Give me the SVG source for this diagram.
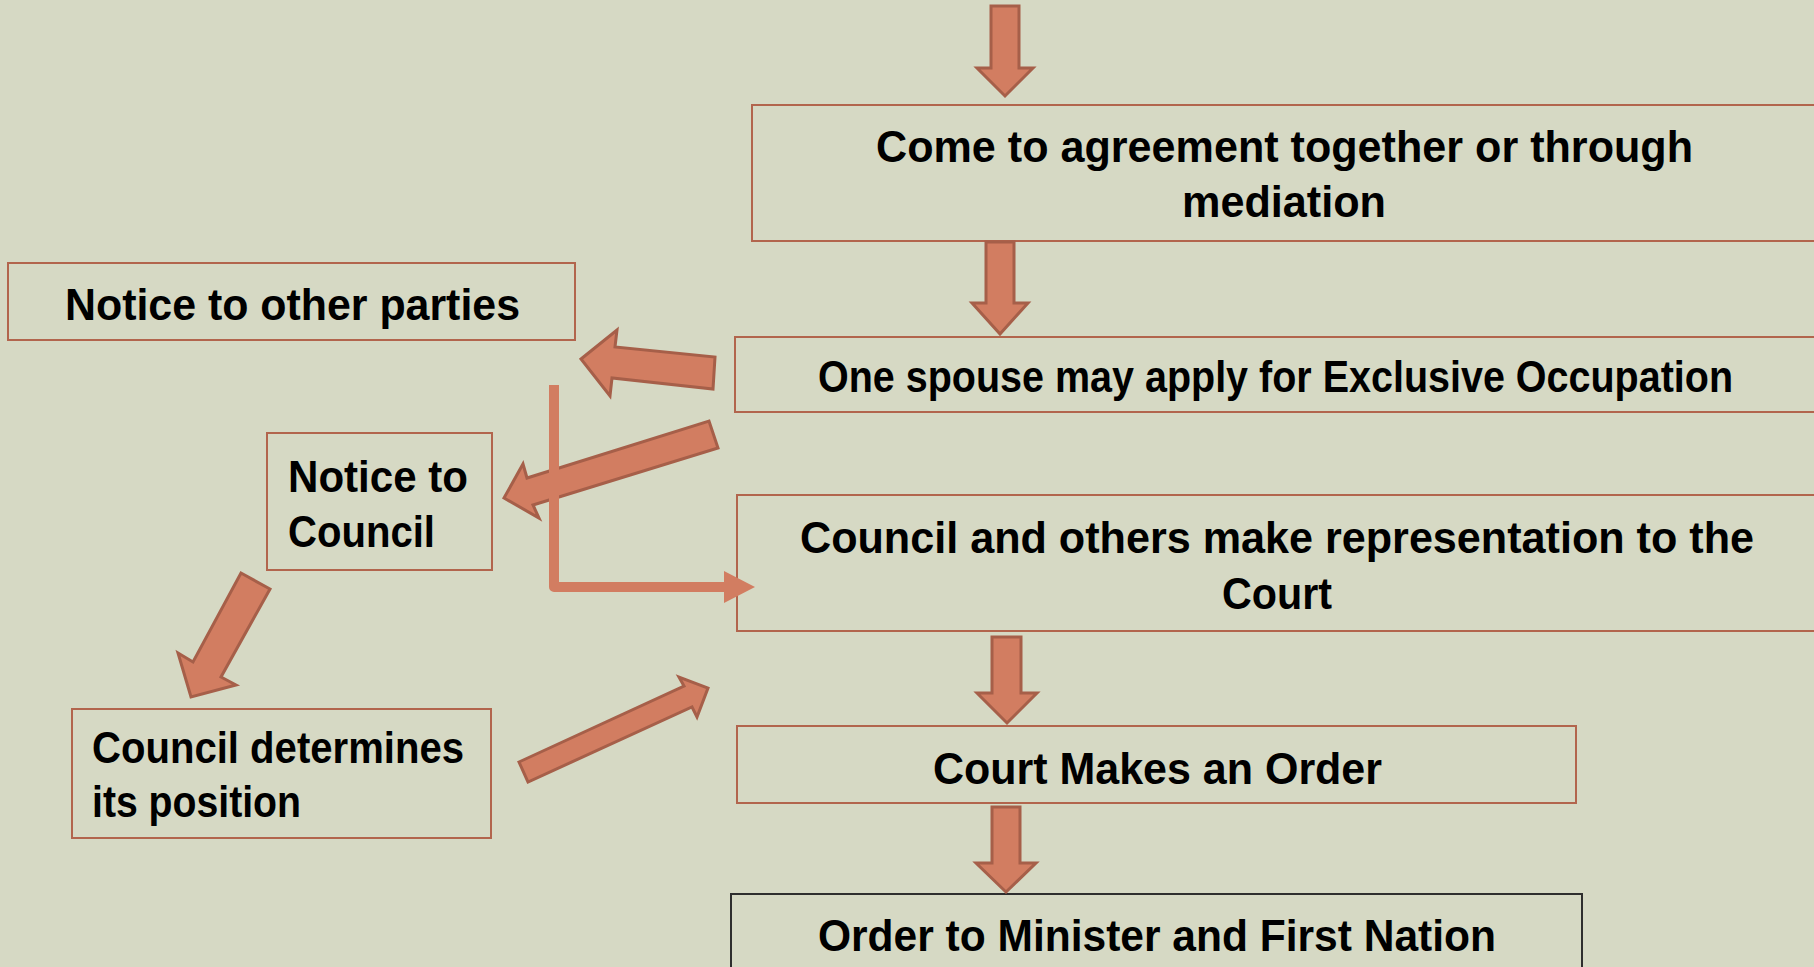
<svg xmlns="http://www.w3.org/2000/svg" width="1814" height="967" viewBox="0 0 1814 967">
<style>
.bg{fill:#D6D9C4}
.box{fill:#D6D9C4;stroke:#B2654D;stroke-width:2}
.boxd{fill:#D6D9C4;stroke:#2E2E2E;stroke-width:2}
.arr{fill:#D27D61;stroke:#A65F49;stroke-width:3;stroke-linejoin:miter}
.t{font-family:"Liberation Sans",Arial,sans-serif;font-weight:bold;font-size:45px;fill:#000}
</style>
<rect class="bg" x="0" y="0" width="1814" height="967"/>
<g id="n-agreement">
<rect class="box" x="752" y="105" width="1080" height="136"/>
<text class="t" x="876" y="162" textLength="817" lengthAdjust="spacingAndGlyphs">Come to agreement together or through</text>
<text class="t" x="1182" y="217" textLength="204" lengthAdjust="spacingAndGlyphs">mediation</text>
</g>
<g id="n-notice-parties">
<rect class="box" x="8" y="263" width="567" height="77"/>
<text class="t" x="65" y="320" textLength="455" lengthAdjust="spacingAndGlyphs">Notice to other parties</text>
</g>
<g id="n-apply">
<rect class="box" x="735" y="337" width="1095" height="75"/>
<text class="t" x="818" y="392" textLength="915" lengthAdjust="spacingAndGlyphs">One spouse may apply for Exclusive Occupation</text>
</g>
<g id="n-notice-council">
<rect class="box" x="267" y="433" width="225" height="137"/>
<text class="t" x="288" y="492" textLength="180" lengthAdjust="spacingAndGlyphs">Notice to</text>
<text class="t" x="288" y="547" textLength="147" lengthAdjust="spacingAndGlyphs">Council</text>
</g>
<g id="n-representation">
<rect class="box" x="737" y="495" width="1093" height="136"/>
<text class="t" x="800" y="553" textLength="954" lengthAdjust="spacingAndGlyphs">Council and others make representation to the</text>
<text class="t" x="1222" y="609" textLength="110" lengthAdjust="spacingAndGlyphs">Court</text>
</g>
<g id="n-council-position">
<rect class="box" x="72" y="709" width="419" height="129"/>
<text class="t" x="92" y="763" textLength="372" lengthAdjust="spacingAndGlyphs">Council determines</text>
<text class="t" x="92" y="817" textLength="209" lengthAdjust="spacingAndGlyphs">its position</text>
</g>
<g id="n-court-order">
<rect class="box" x="737" y="726" width="839" height="77"/>
<text class="t" x="933" y="784" textLength="449" lengthAdjust="spacingAndGlyphs">Court Makes an Order</text>
</g>
<g id="n-order-minister">
<rect class="boxd" x="731" y="894" width="851" height="100"/>
<text class="t" x="818" y="951" textLength="678" lengthAdjust="spacingAndGlyphs">Order to Minister and First Nation</text>
</g>
<g id="connectors">
<polygon class="arr" points="991,6 1019,6 1019,68 1033,68 1005,96 977,68 991,68"/>
<polygon class="arr" points="986,242 1014,242 1014,303 1028,303 1000,334 972,303 986,303"/>
<polygon class="arr" points="992,637 1021,637 1021,693 1037,693 1007,723 977,693 992,693"/>
<polygon class="arr" points="992,807 1020,807 1020,863 1036,863 1006,892 976,863 992,863"/>
<polygon class="arr" points="581,359 617,330 615,347 715,357 713,389 612,378 610,396"/>
<polygon class="arr" points="504,498 523,464 527,478 709,421 718,448 533,505 539,518"/>
<polygon class="arr" points="241,573 270,589 221,677 236,685 191,697 178,653 193,662"/>
<polygon class="arr" points="519,762 684,686 679,677 708,688 697,717 692,707 528,782"/>
<path d="M554,385 V587 H726" fill="none" stroke="#D27D61" stroke-width="10" stroke-linejoin="round"/>
<polygon points="724,571 755,587 724,603" fill="#D27D61"/>
</g>
</svg>
